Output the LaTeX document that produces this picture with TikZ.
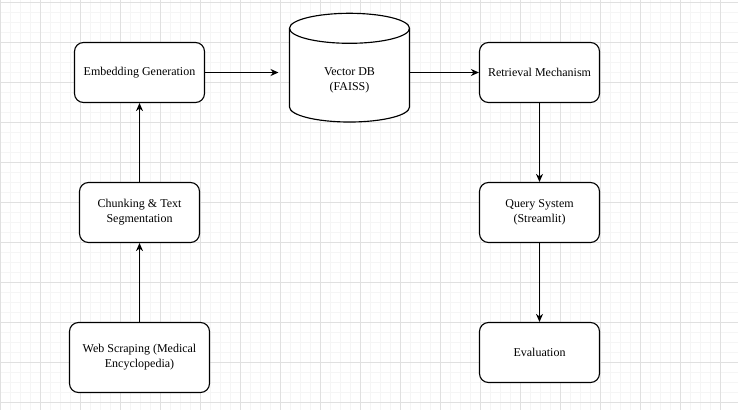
\documentclass[tikz,border=0pt]{standalone}
\usepackage{fontspec}
\setmainfont{Liberation Serif}
\usetikzlibrary{arrows.meta}
\begin{document}
\begin{tikzpicture}[x=1pt,y=-1pt,
  gminor/.style={draw={rgb,255:red,245;green,245;blue,245}, line width=1pt},
  gmajor/.style={draw={rgb,255:red,224;green,224;blue,224}, line width=1pt},
  box/.style={draw=black, line width=1.15pt, rounded corners=9pt, fill=white, align=center,
    font=\fontsize{12}{15}\selectfont, inner sep=0pt},
  lbl/.style={align=center, font=\fontsize{12}{15}\selectfont, inner sep=0pt},
  arr/.style={draw=black, line width=1.1pt, -{Stealth[length=8pt,width=7pt,inset=2.5pt]}}]
\fill[white] (0,0) rectangle (738,410);
\useasboundingbox (0,0) rectangle (738,410);
% grid
\foreach \x in {0.5,10.5,...,730} \draw[gminor] (\x,0) -- (\x,410);
\foreach \y in {2.5,12.5,...,410} \draw[gminor] (0,\y) -- (738,\y);
\foreach \x in {0.5,40.5,...,730} \draw[gmajor] (\x,0) -- (\x,410);
\foreach \y in {2.5,42.5,...,410} \draw[gmajor] (0,\y) -- (738,\y);
% nodes
\node[box, minimum width=130pt, minimum height=60pt] (emb) at (139.5,72.5) {Embedding Generation};
\node[box, minimum width=120pt, minimum height=60pt] (chunk) at (139.5,212.5) {Chunking \& Text\\Segmentation};
\node[box, minimum width=140pt, minimum height=70pt] (web) at (139.5,357.5) {Web Scraping (Medical\\Encyclopedia)};
\node[box, minimum width=120pt, minimum height=60pt] (ret) at (539.5,72.5) {Retrieval Mechanism};
\node[box, minimum width=120pt, minimum height=60pt] (query) at (539.5,212.5) {Query System\\(Streamlit)};
\node[box, minimum width=120pt, minimum height=60pt] (eval) at (539.5,352.5) {Evaluation};
% cylinder
\node[minimum width=120pt, minimum height=108.4pt, inner sep=0pt] (db) at (349.5,67.5) {};
\draw[line width=1.15pt, fill=white] (289.5,28.3) -- (289.5,107)
  arc[start angle=180, end angle=360, x radius=60pt, y radius=15pt] -- (409.5,28.3)
  arc[start angle=0, end angle=180, x radius=60pt, y radius=15pt] -- cycle;
\draw[line width=1.15pt] (289.5,28.3) arc[start angle=180, end angle=360, x radius=60pt, y radius=15pt];
\node[lbl] (dbtext) at (349.5,80.8) {Vector DB\\(FAISS)};
% connectors
\coordinate (dbin) at (278.5,72.5);
\draw[arr] (emb.east) -- (dbin);
\draw[arr] (db.east |- ret.west) -- (ret.west);
\draw[arr] (ret.south) -- (query.north);
\draw[arr] (query.south) -- (eval.north);
\draw[arr] (web.north) -- (chunk.south);
\draw[arr] (chunk.north) -- (emb.south);
\end{tikzpicture}
\end{document}
